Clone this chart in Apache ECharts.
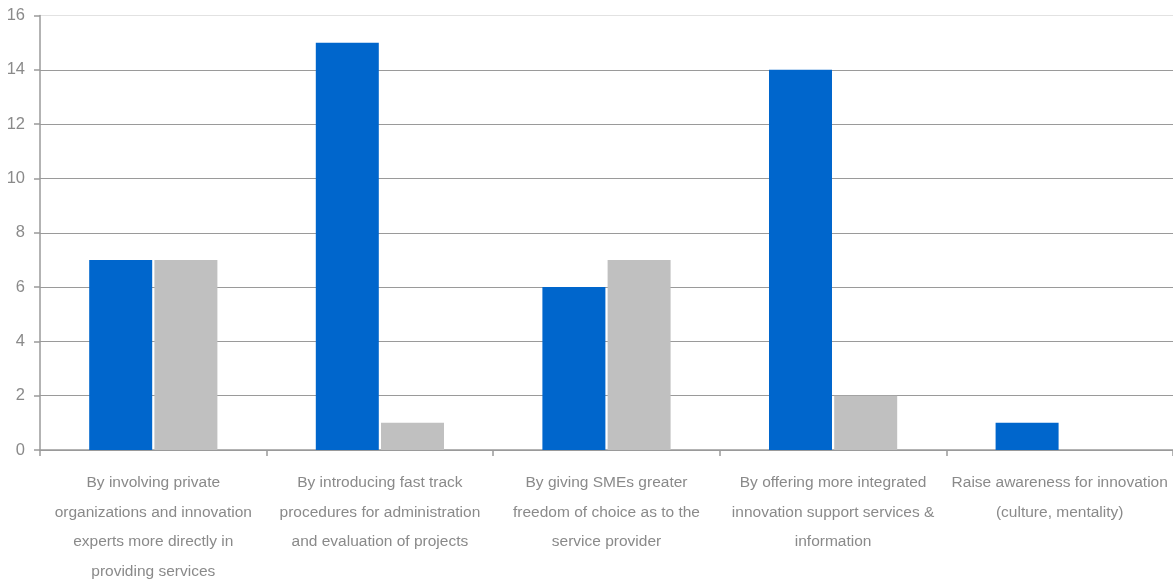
<!DOCTYPE html>
<html>
<head>
<meta charset="utf-8">
<script src="https://cdn.jsdelivr.net/npm/echarts@6/dist/echarts.min.js"></script>
<style>
  html, body { margin: 0; padding: 0; background: #fff; }
  #chart { width: 1173px; height: 582px; }
</style>
</head>
<body>
<div id="chart"></div>
<script>
// Ways to improve innovation support services
const categories = [
  'By involving private\norganizations and innovation\nexperts more directly in\nproviding services',
  'By introducing fast track\nprocedures for administration\nand evaluation of projects',
  'By giving SMEs greater\nfreedom of choice as to the\nservice provider',
  'By offering more integrated\ninnovation support services &\ninformation',
  'Raise awareness for innovation\n(culture, mentality)'
];
const blueValues = [7, 15, 6, 14, 1];
const grayValues = [7, 1, 7, 2, 0];
const yTicks = { min: 0, max: 16, interval: 2 };

const textColor = '#8a8a8a';
const lineColor = '#9a9a9a';
// the topmost grid line is drawn paler than the rest
const gridColors = [lineColor, lineColor, lineColor, lineColor, lineColor, lineColor, lineColor, lineColor, '#e2e2e2'];

const chart = echarts.init(document.getElementById('chart'), null, { renderer: 'canvas' });
chart.setOption({
  animation: false,
  backgroundColor: '#ffffff',
  textStyle: { fontFamily: '"Liberation Sans", Arial, sans-serif' },
  grid: { left: 40, right: 0, top: 15.5, bottom: 132, containLabel: false, outerBoundsMode: 'none' },
  xAxis: {
    type: 'category',
    data: categories,
    axisLine: { show: true, lineStyle: { color: lineColor, width: 1.5 } },
    axisTick: { show: true, length: 6, interval: 0, alignWithLabel: false, lineStyle: { color: lineColor, width: 1.5 } },
    axisLabel: {
      interval: 0,
      color: textColor,
      fontSize: 15.5,
      lineHeight: 29.5,
      margin: 18,
      align: 'center'
    },
    splitLine: { show: false }
  },
  yAxis: {
    type: 'value',
    min: yTicks.min,
    max: yTicks.max,
    interval: yTicks.interval,
    axisLine: { show: true, lineStyle: { color: lineColor, width: 1.5 } },
    axisTick: { show: true, length: 6, lineStyle: { color: lineColor, width: 1.5 } },
    axisLabel: { color: textColor, fontSize: 16.5, margin: 15 },
    splitLine: { show: true, lineStyle: { color: gridColors, width: 1.2 } }
  },
  series: [
    {
      type: 'bar',
      data: blueValues,
      barWidth: 63,
      barGap: '3.5%',
      itemStyle: { color: '#0066cc' }
    },
    {
      type: 'bar',
      data: grayValues,
      barWidth: 63,
      itemStyle: { color: '#c0c0c0' }
    }
  ]
});
</script>
</body>
</html>
